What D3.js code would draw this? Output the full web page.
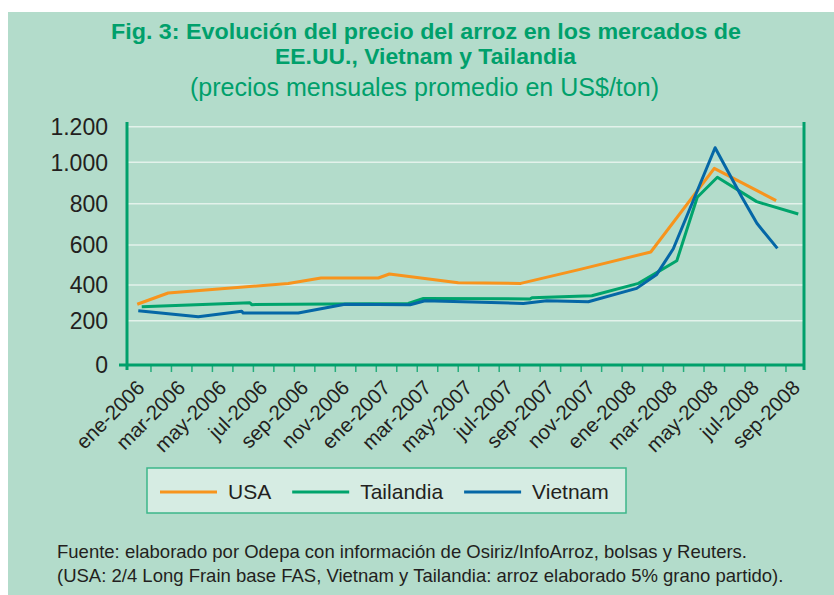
<!DOCTYPE html>
<html>
<head>
<meta charset="utf-8">
<script src="https://cdn.jsdelivr.net/npm/d3@7"></script>
<style>
  body { margin: 0; background: #fff; }
  svg { display: block; }
</style>
</head>
<body>
<svg id="chart" width="834" height="595"></svg>
<script>
// tick labels, one every two months (month index 0 = ene-2006)
const meses = ["ene-2006","mar-2006","may-2006","jul-2006","sep-2006","nov-2006",
  "ene-2007","mar-2007","may-2007","jul-2007","sep-2007","nov-2007",
  "ene-2008","mar-2008","may-2008","jul-2008","sep-2008"];
const yTicks = [0, 200, 400, 600, 800, 1000, 1200];

// series: month index and price US$/ton
const usaMes    = [-0.17, 1.34, 7.2, 8.8, 11.6, 12.14, 15.5, 18.55, 21.45, 24.9, 28.0, 31.02];
const usaPrecio = [292, 355, 408, 435, 435, 455, 411, 408, 478, 565, 971, 815];

const taiMes    = [0.05, 5.33, 5.42, 13.06, 13.8, 19.0, 19.1, 22.02, 24.3, 26.17, 27.17, 28.15, 30.07, 32.1];
const taiPrecio = [278, 301, 290, 297, 325, 322, 329, 340, 408, 521, 831, 928, 810, 750];

const vieMes    = [-0.12, 2.81, 4.93, 5.0, 7.69, 9.97, 13.15, 13.88, 18.68, 19.82, 21.85, 24.21, 25.19, 26.0, 28.04, 29.35, 30.08, 31.08];
const viePrecio = [256, 222, 253, 243, 243, 292, 289, 312, 297, 312, 306, 381, 453, 581, 1082, 831, 705, 583];

const series = [
  {name: "USA",       color: "#f7941d", mes: usaMes, precio: usaPrecio},
  {name: "Tailandia", color: "#00a46c", mes: taiMes, precio: taiPrecio},
  {name: "Vietnam",   color: "#0567a6", mes: vieMes, precio: viePrecio}
];

const green = "#00a06b";
const ink = "#231f20";
const font = "'Liberation Sans', Arial, Helvetica, sans-serif";

const svg = d3.select("#chart");

// background panel
svg.append("rect")
  .attr("x", 8).attr("y", 12)
  .attr("width", 826).attr("height", 583)
  .attr("fill", "#b3dccb");

// titles
const title = svg.append("g")
  .attr("fill", green)
  .style("font-family", font)
  .attr("text-anchor", "middle");
title.append("text")
  .attr("x", 426).attr("y", 38.5)
  .style("font-size", "22px").style("font-weight", "bold")
  .attr("textLength", 630).attr("lengthAdjust", "spacingAndGlyphs")
  .text("Fig. 3: Evolución del precio del arroz en los mercados de");
title.append("text")
  .attr("x", 425.5).attr("y", 63.5)
  .style("font-size", "22px").style("font-weight", "bold")
  .attr("textLength", 301).attr("lengthAdjust", "spacingAndGlyphs")
  .text("EE.UU., Vietnam y Tailandia");
title.append("text")
  .attr("x", 424.5).attr("y", 96)
  .style("font-size", "26px")
  .attr("textLength", 469).attr("lengthAdjust", "spacingAndGlyphs")
  .text("(precios mensuales promedio en US$/ton)");

// scales
const x = d3.scaleLinear().domain([-0.67, 32.38]).range([127, 804]);
const y = d3.scaleLinear().domain(yTicks).range([365, 320.7, 285, 245, 203.7, 162.3, 126.7]);

const es = d3.formatLocale({decimal: ",", thousands: ".", grouping: [3], currency: ["$", ""]});
const fmt = es.format(",d");

const [x0, x1] = x.range();

// gridlines
svg.append("g").selectAll("line")
  .data(yTicks.slice(1))
  .join("line")
  .attr("x1", x0).attr("x2", x1)
  .attr("y1", d => y(d)).attr("y2", d => y(d))
  .attr("stroke", "#e3f2eb")
  .attr("stroke-width", 1.5);

// y labels
svg.append("g").selectAll("text")
  .data(yTicks)
  .join("text")
  .attr("x", 108)
  .attr("y", d => y(d))
  .attr("dy", "0.36em")
  .attr("text-anchor", "end")
  .attr("fill", ink)
  .style("font-family", font)
  .style("font-size", "23px")
  .text(d => fmt(d));

// series lines
const line = d3.line()
  .x(d => x(d[0]))
  .y(d => y(d[1]));

svg.append("g").selectAll("path")
  .data(series)
  .join("path")
  .attr("d", s => line(d3.zip(s.mes, s.precio)))
  .attr("fill", "none")
  .attr("stroke", s => s.color)
  .attr("stroke-width", 3)
  .attr("stroke-linejoin", "round");

// x ticks between months
svg.append("g").selectAll("line")
  .data(d3.range(0.5, 32, 1))
  .join("line")
  .attr("x1", d => x(d)).attr("x2", d => x(d))
  .attr("y1", y(0)).attr("y2", y(0) + 7)
  .attr("stroke", "#27ad7c")
  .attr("stroke-width", 1.5);

// axis frame
const axes = svg.append("g").attr("stroke", green).attr("stroke-width", 3);
axes.append("line").attr("x1", x0).attr("x2", x0).attr("y1", 122).attr("y2", y(0) + 5);
axes.append("line").attr("x1", x1).attr("x2", x1).attr("y1", 122).attr("y2", y(0) + 5);
axes.append("line").attr("x1", x0 - 8).attr("x2", x1).attr("y1", y(0)).attr("y2", y(0));

// x labels, rotated
svg.append("g").selectAll("text")
  .data(meses)
  .join("text")
  .attr("transform", (d, i) => `translate(${x(i * 2) + 5},${y(0) + 24}) rotate(-45)`)
  .attr("text-anchor", "end")
  .attr("fill", ink)
  .style("font-family", font)
  .style("font-size", "20.5px")
  .text(d => d);

// legend
const legend = svg.append("g");
legend.append("rect")
  .attr("x", 147).attr("y", 468)
  .attr("width", 479).attr("height", 45)
  .attr("fill", "#d6ece3")
  .attr("stroke", "#3db68a")
  .attr("stroke-width", 1.5);

let lx = 160;
series.forEach(s => {
  legend.append("line")
    .attr("x1", lx).attr("x2", lx + 57)
    .attr("y1", 492).attr("y2", 492)
    .attr("stroke", s.color)
    .attr("stroke-width", 3);
  const t = legend.append("text")
    .attr("x", lx + 68).attr("y", 498.5)
    .attr("fill", ink)
    .style("font-family", font)
    .style("font-size", "21px")
    .text(s.name);
  lx = lx + 68 + t.node().getComputedTextLength() + 21;
});

// footnote
const note = svg.append("g")
  .attr("fill", ink)
  .style("font-family", font)
  .style("font-size", "18.5px");
note.append("text")
  .attr("x", 57).attr("y", 558)
  .text("Fuente: elaborado por Odepa con información de Osiriz/InfoArroz, bolsas y Reuters.");
note.append("text")
  .attr("x", 57).attr("y", 582)
  .text("(USA: 2/4 Long Frain base FAS, Vietnam y Tailandia: arroz elaborado 5% grano partido).");
</script>
</body>
</html>
